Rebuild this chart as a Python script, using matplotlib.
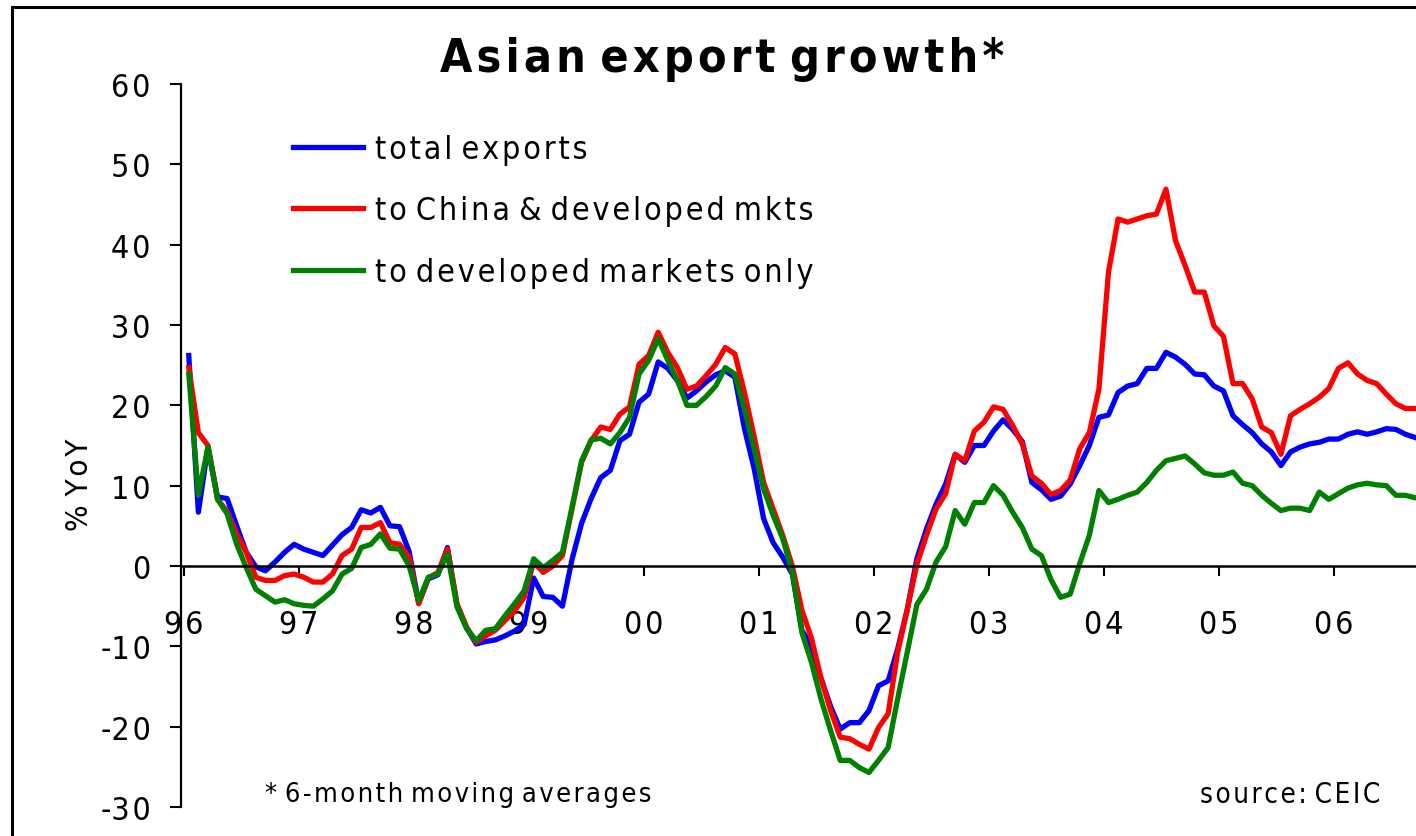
import matplotlib
matplotlib.use('Agg')
import matplotlib.pyplot as plt
from matplotlib import font_manager
from matplotlib.ft2font import FT2Font
from matplotlib.patches import Rectangle
import numpy as np

# ---------------- data (monthly, Jan 1996 .. Sep 2006, % YoY, 6m MA) -------------
total_exports = [
    26.2, 6.7, 14.8, 8.6, 8.4, 5.0, 1.7, -0.1, -0.6, 0.5, 1.7, 2.7,
    2.1, 1.7, 1.3, 2.6, 3.9, 4.8, 7.0, 6.6, 7.3, 5.0, 4.9, 1.8,
    -4.6, -1.6, -1.1, 2.3, -4.9, -7.7, -9.7, -9.4, -9.2, -8.7, -8.1, -7.3,
    -1.5, -3.8, -3.9, -5.0, 0.8, 5.3, 8.4, 11.0, 11.9, 15.6, 16.4, 20.4,
    21.4, 25.4, 24.6, 23.1, 20.9, 21.8, 22.9, 23.8, 24.3, 23.5, 17.1, 12.2,
    5.9, 2.9, 1.1, -1.0, -8.0, -10.0, -14.0, -17.5, -20.3, -19.5, -19.5, -18.0,
    -14.9, -14.3, -10.3, -5.4, 0.9, 4.6, 7.7, 10.2, 13.9, 12.9, 15.0, 15.0,
    16.8, 18.2, 17.0, 15.5, 10.4, 9.5, 8.3, 8.7, 10.2, 12.5, 15.0, 18.5,
    18.8, 21.6, 22.4, 22.7, 24.6, 24.6, 26.6, 26.0, 25.1, 23.9, 23.8, 22.4,
    21.8, 18.7, 17.6, 16.6, 15.2, 14.2, 12.5, 14.2, 14.8, 15.2, 15.4, 15.8,
    15.8, 16.4, 16.7, 16.4, 16.7, 17.1, 17.0, 16.4, 16.0,
]
to_china_and_developed = [
    24.7, 16.6, 15.0, 8.3, 6.8, 4.0, 1.7, -1.4, -1.8, -1.8, -1.2, -1.0,
    -1.4, -2.0, -2.0, -1.0, 1.3, 2.1, 4.8, 4.8, 5.4, 2.9, 2.7, 1.1,
    -4.7, -1.5, -0.8, 2.1, -4.7, -7.6, -9.5, -8.7, -8.0, -6.8, -5.6, -3.9,
    0.5, -0.8, 0.0, 1.3, 7.1, 12.9, 15.6, 17.3, 17.0, 18.9, 19.8, 25.1,
    26.2, 29.1, 26.6, 24.7, 22.0, 22.4, 23.7, 25.1, 27.2, 26.4, 21.6, 16.2,
    10.4, 7.1, 3.8, 0.0, -5.5, -9.0, -14.0, -18.0, -21.3, -21.5, -22.2, -22.8,
    -20.1, -18.4, -10.7, -5.4, 0.2, 3.8, 7.1, 9.0, 13.9, 13.1, 16.8, 17.9,
    19.8, 19.5, 17.5, 15.2, 11.2, 10.3, 8.9, 9.4, 10.7, 14.6, 16.6, 22.0,
    36.6, 43.2, 42.8, 43.2, 43.6, 43.8, 46.9, 40.5, 37.4, 34.1, 34.1, 29.9,
    28.6, 22.7, 22.7, 20.8, 17.3, 16.6, 13.9, 18.7, 19.5, 20.2, 21.0, 22.1,
    24.6, 25.3, 23.9, 23.1, 22.7, 21.4, 20.2, 19.6, 19.6,
]
to_developed_only = [
    23.9, 8.8, 14.8, 8.3, 6.5, 2.7, -0.2, -2.9, -3.7, -4.5, -4.2, -4.7,
    -4.9, -5.0, -4.1, -3.1, -1.0, -0.3, 2.3, 2.7, 4.0, 2.2, 2.1, 0.0,
    -4.3, -1.4, -1.0, 1.5, -5.1, -7.8, -9.3, -8.0, -7.8, -6.2, -4.7, -3.1,
    0.9, -0.2, 0.7, 1.7, 7.3, 13.1, 15.7, 15.9, 15.2, 16.6, 18.5, 23.9,
    25.6, 28.3, 25.6, 23.1, 20.0, 20.0, 21.1, 22.4, 24.7, 23.9, 19.5, 14.6,
    9.6, 6.3, 3.4, -0.8, -8.3, -12.0, -16.6, -20.5, -24.2, -24.2, -25.1, -25.7,
    -24.2, -22.6, -16.5, -10.7, -4.8, -2.9, 0.5, 2.4, 6.9, 5.2, 7.9, 7.9,
    10.0, 8.8, 6.7, 4.8, 2.1, 1.3, -1.7, -3.9, -3.5, 0.3, 3.8, 9.4,
    7.9, 8.3, 8.8, 9.2, 10.4, 11.9, 13.1, 13.4, 13.7, 12.7, 11.6, 11.3,
    11.3, 11.7, 10.3, 10.0, 8.8, 7.8, 6.9, 7.2, 7.2, 6.9, 9.2, 8.3,
    9.0, 9.7, 10.1, 10.3, 10.1, 10.0, 8.8, 8.8, 8.5,
]
series_names = ['total exports', 'to China & developed mkts',
                'to developed markets only']
series_colors = ['#0000ff', '#ff0000', '#008000']
year_labels = ['96', '97', '98', '99', '00', '01', '02', '03', '04', '05', '06']
y_tick_values = [60, 50, 40, 30, 20, 10, 0, -10, -20, -30]
title_text = 'Asian export growth*'
ylabel_text = '% YoY'
note_text = '* 6-month moving averages'
source_text = 'source: CEIC'

# ---------------- fonts ----------------
narrow_reg, narrow_bold = None, None
for f in font_manager.fontManager.ttflist:
    fn = f.fname.lower()
    if ('narrow' in fn or 'condensed' in fn) and 'sans' in fn and 'mono' not in fn \
            and 'oblique' not in fn and 'italic' not in fn:
        if 'bold' in fn:
            if narrow_bold is None or 'liberation' in fn:
                narrow_bold = f.fname
        elif 'light' not in fn:
            if narrow_reg is None or 'liberation' in fn:
                narrow_reg = f.fname

if narrow_reg is not None:
    font_reg = font_manager.FontProperties(fname=narrow_reg)
    font_bold = font_manager.FontProperties(fname=narrow_bold or narrow_reg)
    check_path = narrow_reg
else:
    font_reg = font_manager.FontProperties(family='Liberation Sans')
    font_bold = font_manager.FontProperties(family='Liberation Sans', weight='bold')
    check_path = font_manager.findfont(font_reg)


def has_glyph(path, ch):
    try:
        return FT2Font(path).get_char_index(ord(ch)) != 0
    except Exception:
        return False


GAP = ''
for cand in ['\u200a', '\u2009']:
    if has_glyph(check_path, cand) and has_glyph(narrow_bold or check_path, cand):
        GAP = cand
        break
plt.rcParams['font.family'] = ['Liberation Sans', 'DejaVu Sans']


def spaced(s):
    return ' '.join(GAP.join(w) for w in s.split(' '))


def spaced_num(s):
    if s.startswith('-'):
        return '-' + GAP.join(s[1:])
    return GAP.join(s)


def fp(base, size):
    p = base.copy()
    p.set_size(size)
    return p


# ---------------- figure ----------------
W, H = 1416, 837
fig = plt.figure(figsize=(W / 100, H / 100), dpi=100)
fig.patch.set_facecolor('white')

ax = fig.add_axes([181 / W, (H - 808) / H, (W - 181) / W, (808 - 85) / H])
ax.set_facecolor('white')

t = np.arange(len(total_exports)) + 0.5
for vals, col, name in zip([total_exports, to_china_and_developed, to_developed_only],
                           series_colors, series_names):
    ax.plot(t, vals, color=col, lw=3.8, label=spaced(name))

ax.set_xlim(-0.313, 128.6)
ax.set_ylim(-30, 60)

for s in ['top', 'right']:
    ax.spines[s].set_visible(False)
ax.spines['left'].set_linewidth(1.6)
ax.spines['bottom'].set_position(('data', 0))
ax.spines['bottom'].set_linewidth(1.8)

ax.set_yticks(y_tick_values)
ax.set_yticklabels([spaced_num(str(v)) for v in y_tick_values])
ax.tick_params(axis='y', direction='out', length=8, width=1.5, pad=14)
for lab in ax.get_yticklabels():
    lab.set_fontproperties(fp(font_reg, 23))

ax.set_xticks(np.arange(len(year_labels)) * 12)
ax.set_xticklabels([spaced_num(s) for s in year_labels])
ax.tick_params(axis='x', direction='out', length=7, width=1.5, pad=24)
for lab in ax.get_xticklabels():
    lab.set_fontproperties(fp(font_reg, 23))

ax.legend(loc='upper left', bbox_to_anchor=(293 / W, 1 - 135 / H),
          bbox_transform=fig.transFigure, frameon=False, prop=fp(font_reg, 23),
          handlelength=2.2, handletextpad=0.38, labelspacing=0.95,
          borderpad=0, borderaxespad=0)

fig.text(722 / W, 1 - 60 / H, spaced(title_text), ha='center', va='center',
         fontproperties=fp(font_bold, 33.5))
fig.text(80 / W, 1 - 485 / H, spaced(ylabel_text), rotation=90, ha='center',
         va='center', fontproperties=fp(font_reg, 22.5))
fig.text(265 / W, 1 - 795 / H, spaced(note_text), ha='left', va='center',
         fontproperties=fp(font_reg, 19.5))
fig.text(1380 / W, 1 - 795 / H, spaced(source_text), ha='right', va='center',
         fontproperties=fp(font_reg, 20))

fig.add_artist(Rectangle((12 / W, -0.2), 1.5, 1.2 - 8 / H, transform=fig.transFigure,
                         fill=False, lw=2.2, ec='black'))

fig.savefig('out.png', dpi=100, facecolor='white')
